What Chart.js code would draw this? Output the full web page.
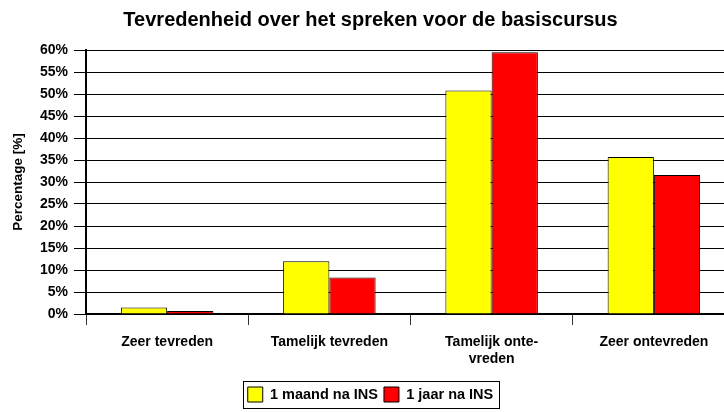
<!DOCTYPE html>
<html>
<head>
<meta charset="utf-8">
<script src="https://cdn.jsdelivr.net/npm/chart.js@4/dist/chart.umd.min.js"></script>
<style>
  html, body { margin: 0; padding: 0; background: #fff; overflow: hidden; }
  #wrap { width: 735px; height: 412px; }
</style>
</head>
<body>
<div id="wrap"><canvas id="c" width="735" height="412"></canvas></div>
<script>
// Tevredenheid over het spreken — twee metingen naast elkaar
const categories  = ["Zeer tevreden", "Tamelijk tevreden", ["Tamelijk onte-", "vreden"], "Zeer ontevreden"];
const maandValues = [1.5, 12.0, 50.8, 35.7];   // 1 maand na INS
const jaarValues  = [0.7, 8.3, 59.5, 31.6];    // 1 jaar na INS
const yMax  = 60;
const yStep = 5;

const FONT = "'Liberation Sans', Arial, sans-serif";

// draws the thin frame round the legend items
const legendFrame = {
  id: "legendFrame",
  afterDraw(chart) {
    const boxes = chart.legend && chart.legend.legendHitBoxes;
    if (!boxes || !boxes.length) return;
    const left   = Math.min(...boxes.map(b => b.left)) - 5;
    const right  = Math.max(...boxes.map(b => b.left + b.width)) + 5;
    const top    = Math.min(...boxes.map(b => b.top)) - 6;
    const bottom = Math.max(...boxes.map(b => b.top + b.height)) + 6;
    const ctx = chart.ctx;
    ctx.save();
    ctx.strokeStyle = "#000";
    ctx.lineWidth = 1;
    ctx.strokeRect(Math.round(left) + 0.5, Math.round(top) + 0.5, Math.round(right - left), Math.round(bottom - top));
    ctx.restore();
  },
};

new Chart(document.getElementById("c"), {
  type: "bar",
  data: {
    labels: categories,
    datasets: [
      {
        label: "1 maand na INS",
        data: maandValues,
        backgroundColor: "#ffff00",
        borderColor: "#000",
        borderWidth: 1,
      },
      {
        label: "1 jaar na INS",
        data: jaarValues,
        backgroundColor: "#ff0000",
        borderColor: "#000",
        borderWidth: 1,
      },
    ],
  },
  options: {
    responsive: false,
    animation: false,
    devicePixelRatio: 1,
    categoryPercentage: 0.57,
    barPercentage: 1.0,
    layout: { padding: { left: 6, right: 0, top: 0, bottom: 0 } },
    plugins: {
      title: {
        display: true,
        text: "Tevredenheid over het spreken voor de basiscursus",
        color: "#000",
        font: { family: FONT, size: 20, weight: "bold" },
        padding: { top: 8, bottom: 18 },
      },
      legend: {
        position: "bottom",
        labels: {
          color: "#000",
          font: { family: FONT, size: 14.5, weight: "bold" },
          boxWidth: 15,
          boxHeight: 15,
          padding: 6,
          generateLabels: (chart) => chart.data.datasets.map((ds, i) => ({
            text: ds.label,
            fillStyle: ds.backgroundColor,
            strokeStyle: "#000",
            lineWidth: 1,
            fontColor: "#000",
            datasetIndex: i,
          })),
        },
      },
      tooltip: { enabled: false },
    },
    scales: {
      x: {
        offset: true,
        afterFit: (scale) => { scale.height = 67; },
        grid: {
          offset: true,
          drawOnChartArea: false,
          drawTicks: true,
          tickLength: 11,
          color: "#333",
        },
        border: { color: "#000", width: 2 },
        ticks: {
          color: "#000",
          padding: 9,
          maxRotation: 0,
          autoSkip: false,
          font: { family: FONT, size: 14, weight: "bold" },
        },
      },
      y: {
        min: 0,
        max: yMax,
        afterFit: (scale) => { scale.width = 80; },
        grid: {
          color: "#000",
          lineWidth: 1,
          tickLength: 12,
        },
        border: { color: "#000", width: 2 },
        ticks: {
          stepSize: yStep,
          color: "#000",
          padding: 6,
          font: { family: FONT, size: 14, weight: "bold" },
          callback: (v) => v + "%",
        },
        title: {
          display: true,
          text: "Percentage [%]",
          color: "#000",
          font: { family: FONT, size: 13.5, weight: "bold" },
          padding: { top: 4, bottom: 4 },
        },
      },
    },
  },
  plugins: [legendFrame],
});
</script>
</body>
</html>
